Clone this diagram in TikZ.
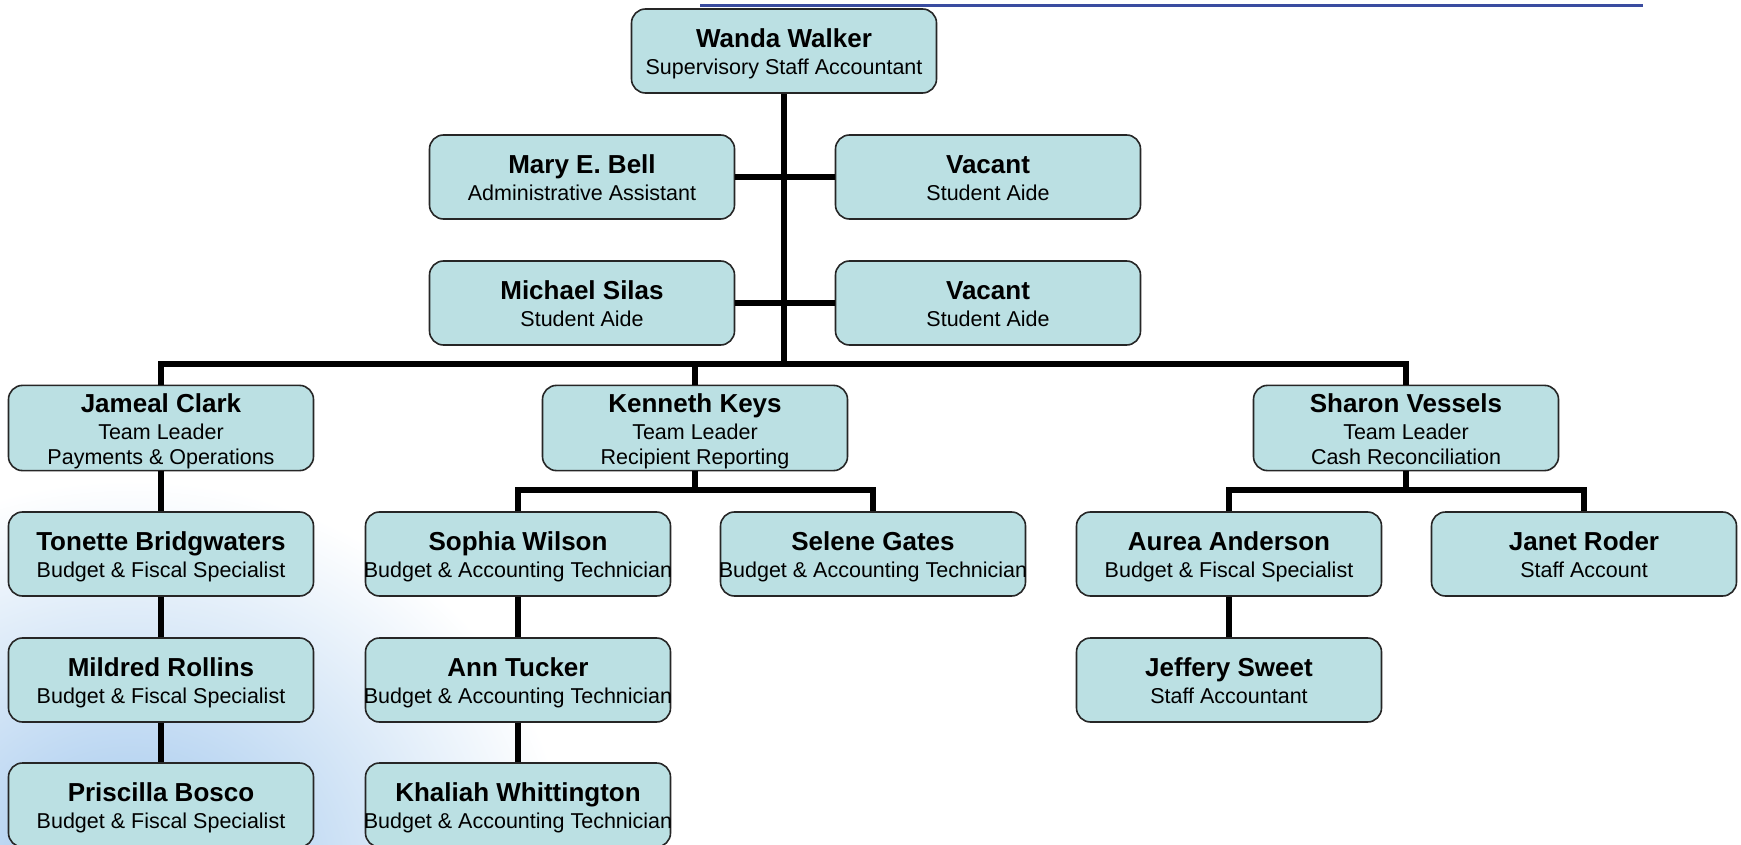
\documentclass[tikz,border=0pt]{standalone}
\usepackage{fontspec}
\setmainfont{Liberation Sans}
\usetikzlibrary{calc}
\definecolor{boxfill}{RGB}{187,224,227}
\definecolor{glowblue}{RGB}{158,197,236}
\definecolor{topblue}{RGB}{58,76,160}
\newcommand{\who}[1]{\rule{0pt}{26.7pt}\makebox[250pt]{\fontsize{26}{26}\selectfont\bfseries #1}}
\newcommand{\job}[1]{\makebox[250pt]{#1}\rule[-6pt]{0pt}{6pt}}

\begin{document}
\begin{tikzpicture}[x=1pt,y=-1pt,
  person/.style={draw=black!85,line width=1.6pt,fill=boxfill,rounded corners=14pt,
    minimum width=305pt,minimum height=84pt,inner sep=0pt,align=center,
    font=\fontsize{21.5}{25.5}\selectfont},
  link/.style={line width=5.5pt}]
  \useasboundingbox (0,0) rectangle (1741,845);
  \begin{scope}
    \clip (0,0) rectangle (1741,845);
    \shade[inner color=glowblue,outer color=white] (130,880) ellipse (440pt and 400pt);
  \end{scope}
  \draw[topblue,line width=3pt] (700,6) -- (1643,6);

  \node[person] (wanda) at (784,51) {\who{Wanda Walker}\\[1.5pt]\job{Supervisory Staff Accountant}};
  \node[person] (mary) at (582,177) {\who{Mary E. Bell}\\[1.5pt]\job{Administrative Assistant}};
  \node[person] (vacA) at (988,177) {\who{Vacant}\\[1.5pt]\job{Student Aide}};
  \node[person] (michael) at (582,303) {\who{Michael Silas}\\[1.5pt]\job{Student Aide}};
  \node[person] (vacB) at (988,303) {\who{Vacant}\\[1.5pt]\job{Student Aide}};

  \node[person] (jameal) at (161,428) {\who{Jameal Clark}\\[1.5pt]\job{Team Leader}\\\job{Payments \& Operations}};
  \node[person] (kenneth) at (695,428) {\who{Kenneth Keys}\\[1.5pt]\job{Team Leader}\\\job{Recipient Reporting}};
  \node[person] (sharon) at (1406,428) {\who{Sharon Vessels}\\[1.5pt]\job{Team Leader}\\\job{Cash Reconciliation}};

  \node[person] (tonette) at (161,554) {\who{Tonette Bridgwaters}\\[1.5pt]\job{Budget \& Fiscal Specialist}};
  \node[person] (sophia) at (518,554) {\who{Sophia Wilson}\\[1.5pt]\job{Budget \& Accounting Technician}};
  \node[person] (selene) at (873,554) {\who{Selene Gates}\\[1.5pt]\job{Budget \& Accounting Technician}};
  \node[person] (aurea) at (1229,554) {\who{Aurea Anderson}\\[1.5pt]\job{Budget \& Fiscal Specialist}};
  \node[person] (janet) at (1584,554) {\who{Janet Roder}\\[1.5pt]\job{Staff Account}};

  \node[person] (mildred) at (161,680) {\who{Mildred Rollins}\\[1.5pt]\job{Budget \& Fiscal Specialist}};
  \node[person] (ann) at (518,680) {\who{Ann Tucker}\\[1.5pt]\job{Budget \& Accounting Technician}};
  \node[person] (jeffery) at (1229,680) {\who{Jeffery Sweet}\\[1.5pt]\job{Staff Accountant}};

  \node[person] (priscilla) at (161,805) {\who{Priscilla Bosco}\\[1.5pt]\job{Budget \& Fiscal Specialist}};
  \node[person] (khaliah) at (518,805) {\who{Khaliah Whittington}\\[1.5pt]\job{Budget \& Accounting Technician}};

  \coordinate (bus) at (784,364);
  \coordinate (kbus) at (695,490);
  \coordinate (sbus) at (1406,490);

  \draw[link] (wanda.south) -- (bus);
  \draw[link] (mary.east) -- (vacA.west);
  \draw[link] (michael.east) -- (vacB.west);
  \draw[link] (jameal.north) |- (bus) -| (sharon.north);
  \draw[link] (kenneth.north) -- (kenneth.north |- bus);

  \draw[link] (kenneth.south) -- (kbus);
  \draw[link] (sophia.north) |- (kbus) -| (selene.north);
  \draw[link] (sharon.south) -- (sbus);
  \draw[link] (aurea.north) |- (sbus) -| (janet.north);

  \draw[link] (jameal.south) -- (tonette.north) (tonette.south) -- (mildred.north) (mildred.south) -- (priscilla.north);
  \draw[link] (sophia.south) -- (ann.north) (ann.south) -- (khaliah.north);
  \draw[link] (aurea.south) -- (jeffery.north);
\end{tikzpicture}
\end{document}
